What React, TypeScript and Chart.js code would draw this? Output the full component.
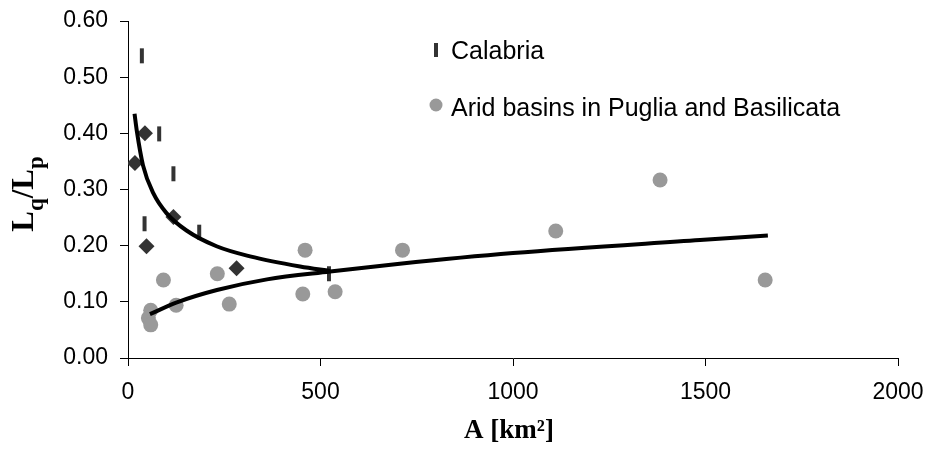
import React, { useEffect, useRef } from 'react';
import { Chart, registerables } from 'chart.js';

Chart.register(...registerables);

// ---- data ----
const calabriaArea = [36, 81, 118, 43, 185, 522];
const calabriaRatio = [0.538, 0.399, 0.328, 0.239, 0.224, 0.15];

const diamondArea = [18, 44, 118, 48, 282];
const diamondRatio = [0.347, 0.4, 0.251, 0.199, 0.16];

const aridArea = [92, 59, 53, 59, 125, 232, 263, 460, 454, 538, 713, 1111, 1382, 1655];
const aridRatio = [0.139, 0.085, 0.071, 0.059, 0.094, 0.15, 0.096, 0.192, 0.114, 0.118, 0.192, 0.226, 0.317, 0.139];

const upperTrendArea = [17, 23, 39, 66, 100, 152, 230, 317, 447, 525];
const upperTrendRatio = [0.435, 0.404, 0.343, 0.293, 0.258, 0.227, 0.199, 0.181, 0.163, 0.155];

const lowerTrendArea = [57, 127, 231, 361, 525, 706, 1000, 1486, 1662];
const lowerTrendRatio = [0.078, 0.099, 0.121, 0.14, 0.154, 0.168, 0.187, 0.21, 0.218];

const xTicks = [0, 500, 1000, 1500, 2000];
const yTicks = [0, 0.1, 0.2, 0.3, 0.4, 0.5, 0.6];

const legendLabels = ['Calabria', 'Arid basins in Puglia and Basilicata'];
const xTitle = 'A [km\u00B2]';

const SANS = '"Liberation Sans", Arial, Helvetica, sans-serif';
const SERIF = '"Liberation Serif", "Times New Roman", Times, serif';

const pts = (xs: number[], ys: number[]) => xs.map((x, i) => ({ x, y: ys[i] }));

const decorPlugin = {
  id: 'decor',
  afterDraw(chart: any) {
    const { ctx, chartArea } = chart;
    ctx.save();
    // legend
    ctx.fillStyle = '#000';
    ctx.font = `25px ${SANS}`;
    ctx.textBaseline = 'alphabetic';
    ctx.textAlign = 'left';
    ctx.strokeStyle = '#333';
    ctx.lineWidth = 4;
    ctx.beginPath();
    ctx.moveTo(436, 43);
    ctx.lineTo(436, 57);
    ctx.stroke();
    ctx.fillText(legendLabels[0], 451, 59);
    ctx.fillStyle = '#999';
    ctx.beginPath();
    ctx.arc(436, 105, 6.5, 0, Math.PI * 2);
    ctx.fill();
    ctx.fillStyle = '#000';
    ctx.fillText(legendLabels[1], 451, 116);

    // x title
    ctx.font = `bold 27px ${SERIF}`;
    ctx.textAlign = 'center';
    ctx.fillText(xTitle, (chartArea.left + chartArea.right) / 2 - 4, 438);

    // y title: L_q / L_p rotated
    const big = `bold 31px ${SERIF}`;
    const small = `bold 23px ${SERIF}`;
    const parts: [string, string, number][] = [
      ['L', big, 0],
      ['q', small, 10],
      ['/', big, 0],
      ['L', big, 0],
      ['p', small, 10],
    ];
    let total = 0;
    const widths = parts.map(([t, f]) => {
      ctx.font = f;
      const w = ctx.measureText(t).width;
      total += w;
      return w;
    });
    ctx.translate(33, 194);
    ctx.rotate(-Math.PI / 2);
    ctx.textAlign = 'left';
    let cx = -total / 2;
    parts.forEach(([t, f, dy], i) => {
      ctx.font = f;
      ctx.fillText(t, cx, dy);
      cx += widths[i];
    });
    ctx.restore();
  },
};

export default function App() {
  const ref = useRef<HTMLCanvasElement | null>(null);
  useEffect(() => {
    if (!ref.current) return;
    const chart = new Chart(ref.current, {
      type: 'scatter',
      data: {
        datasets: [
          {
            label: 'Trend Calabria',
            data: pts(upperTrendArea, upperTrendRatio),
            showLine: true,
            borderColor: '#000',
            borderWidth: 4,
            pointRadius: 0,
            cubicInterpolationMode: 'monotone',
          },
          {
            label: 'Trend arid basins',
            data: pts(lowerTrendArea, lowerTrendRatio),
            showLine: true,
            borderColor: '#000',
            borderWidth: 4,
            pointRadius: 0,
            cubicInterpolationMode: 'monotone',
          },
          {
            label: legendLabels[0],
            data: pts(calabriaArea, calabriaRatio),
            pointStyle: 'line',
            rotation: 90,
            pointRadius: 7.5,
            borderColor: '#333',
            backgroundColor: '#333',
            pointBorderWidth: 4,
          },
          {
            label: 'Calabria (other)',
            data: pts(diamondArea, diamondRatio),
            pointStyle: 'rectRot',
            pointRadius: 8,
            backgroundColor: '#333',
            borderColor: '#333',
            pointBorderWidth: 0,
          },
          {
            label: legendLabels[1],
            data: pts(aridArea, aridRatio),
            pointStyle: 'circle',
            pointRadius: 7.5,
            backgroundColor: '#999',
            borderColor: '#999',
            pointBorderWidth: 0,
          },
        ],
      },
      options: {
        responsive: false,
        animation: false,
        layout: { padding: { left: 0, top: 21, right: 31, bottom: 0 } },
        plugins: {
          legend: { display: false },
          tooltip: { enabled: false },
        },
        scales: {
          x: {
            type: 'linear',
            min: 0,
            max: 2000,
            afterBuildTicks: (s: any) => {
              s.ticks = xTicks.map((v) => ({ value: v }));
            },
            afterFit: (s: any) => {
              s.height = 103;
              s.paddingLeft = 0;
              s.paddingRight = 0;
            },
            ticks: {
              color: '#000',
              font: { family: SANS, size: 23 },
              padding: 13,
              maxRotation: 0,
              callback: (v: any) => String(v),
            },
            grid: { drawOnChartArea: false, drawTicks: true, tickLength: 8, color: '#000', lineWidth: 1 },
            border: { display: true, color: '#000', width: 1 },
          },
          y: {
            type: 'linear',
            min: 0,
            max: 0.6,
            afterBuildTicks: (s: any) => {
              s.ticks = yTicks.map((v) => ({ value: v }));
            },
            afterFit: (s: any) => {
              s.width = 128;
              s.paddingTop = 0;
              s.paddingBottom = 0;
            },
            ticks: {
              color: '#000',
              font: { family: SANS, size: 23 },
              padding: 12,
              callback: (v: any) => Number(v).toFixed(2),
            },
            grid: { drawOnChartArea: false, drawTicks: true, tickLength: 8, color: '#000', lineWidth: 1 },
            border: { display: true, color: '#000', width: 1 },
          },
        },
      },
      plugins: [decorPlugin],
    } as any);
    return () => chart.destroy();
  }, []);
  return (
    <div style={{ position: 'absolute', left: 0, top: 0, width: 929, height: 461, background: '#fff' }}>
      <canvas ref={ref} width={929} height={461} />
    </div>
  );
}
